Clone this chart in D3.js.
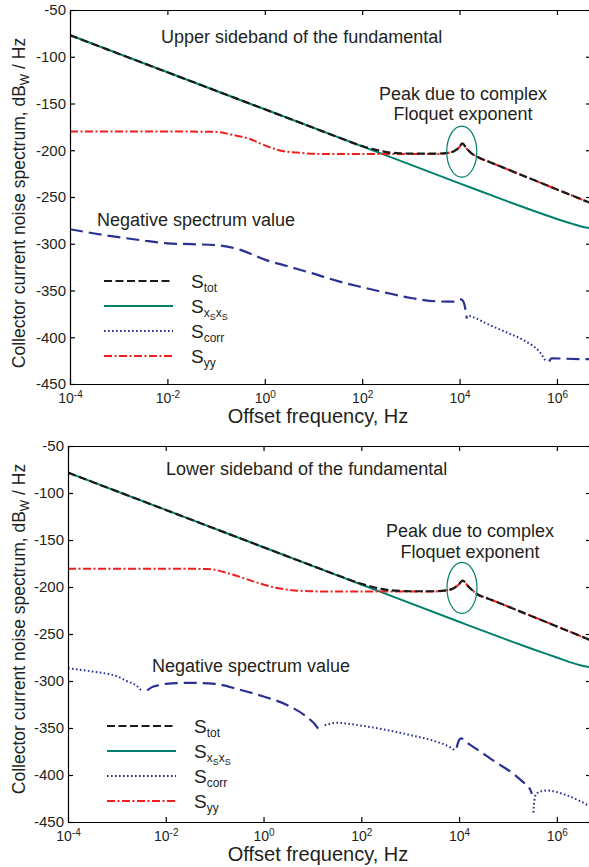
<!DOCTYPE html>
<html>
<head>
<meta charset="utf-8">
<script src="https://cdn.jsdelivr.net/npm/d3@7"></script>
<style>
body { margin: 0; background: #fff; }
svg text { font-family: "Liberation Sans", Arial, Helvetica, sans-serif; fill: #231f20; }
.axis path, .axis line { stroke: #000; stroke-width: 1.2; }
</style>
</head>
<body>
<div id="chart"></div>
<script>
// ---- data: points are [log10(frequency in Hz), dB]; S_corr adds a sign (-1 = negative value)
const freqTickExp = [-4, -2, 0, 2, 4, 6];
const dbTicks = [-50, -100, -150, -200, -250, -300, -350, -400, -450];
const freqMaxExp = Math.log10(5e6);

const upperXX = [[-4,-77],[-2,-116.6],[0,-156.2],[2,-195.8],[4,-235.4],[5,-255],[5.5,-264.5],
  [6,-273.5],[6.3,-278.5],[6.5,-281.5],[6.7,-283.5]];
const upperYY = [[-4,-180],[-2,-180],[-1.06,-180.2],[-0.65,-183.7],[-0.3,-188],[-0.1,-192.6],
  [0.31,-200.2],[0.72,-202.8],[1.2,-204],[3.5,-204],[3.8,-202.5],[3.9,-200.5],[4.0,-196.5],
  [4.055,-192.6],[4.15,-198.5],[4.25,-203.5],[4.4,-208],[4.6,-212.2],[4.9,-218.6],[5.2,-225],
  [5.58,-233],[5.9,-239.8],[6.27,-247.6],[6.7,-256.7]];
const upperTot = [[-4,-77],[-2,-116.6],[0,-156.2],[1,-176],[1.5,-186],[2,-195.5],[2.2,-198.5],
  [2.4,-201],[2.6,-202.6],[2.8,-203.3],[3,-203.6],[3.5,-203.6],[3.8,-202.5],[3.9,-200.5],[4.0,-196.5],
  [4.055,-192.6],[4.15,-198.5],[4.25,-203.5],[4.4,-208],[4.6,-212.2],[4.9,-218.6],[5.2,-225],
  [5.58,-233],[5.9,-239.8],[6.27,-247.6],[6.7,-256.7]];
const upperCorr = [[-4,-284.5,-1],[-3.5,-289,-1],[-3,-293,-1],[-2.5,-296.5,-1],[-2,-299.5,-1],
  [-1.5,-300.5,-1],[-1,-301.5,-1],[-0.5,-306.5,-1],[0,-317,-1],[0.5,-324.5,-1],[1,-332,-1],
  [1.5,-340,-1],[2,-346.5,-1],[2.5,-352.5,-1],[3,-358,-1],[3.5,-361.5,-1],[3.9,-362,-1],
  [4.03,-359.5,-1],[4.08,-362,-1],[4.12,-370,-1],[4.15,-380,-1],
  [4.2,-377,1],[4.3,-379,1],[4.62,-387,1],[5,-395.5,1],[5.31,-403,1],[5.5,-409,1],[5.65,-416,1],[5.76,-425,1],
  [5.84,-426,-1],[5.89,-422.5,-1],[6.2,-423,-1],[6.7,-423.5,-1]];

const lowerXX = [[-4,-78.3],[-2,-118],[0,-157.7],[2,-197.3],[4,-237],[5,-256.5],[5.5,-266],
  [6,-275],[6.3,-280.5],[6.5,-283.5],[6.7,-285.5]];
const lowerYY = [[-4,-180.6],[-2,-180.6],[-1.15,-180.8],[-0.62,-187],[-0.21,-194],[0.27,-201],
  [0.74,-204],[1.2,-204.7],[3.5,-204.7],[3.8,-203],[3.9,-201],[4.0,-197],[4.07,-193.3],
  [4.2,-200],[4.39,-208.2],[4.6,-212.4],[4.9,-218.6],[5.2,-225],[5.58,-233],[5.9,-239.8],
  [6.27,-247.6],[6.7,-256.8]];
const lowerTot = [[-4,-78.3],[-2,-118],[0,-157.7],[1,-177.5],[1.5,-187.3],[2,-196.5],[2.2,-199.5],
  [2.4,-202],[2.6,-203.5],[2.8,-204.2],[3,-204.5],[3.5,-204.5],[3.8,-203],[3.9,-201],[4.0,-197],
  [4.07,-193.3],[4.2,-200],[4.39,-208.2],[4.6,-212.4],[4.9,-218.6],[5.2,-225],[5.58,-233],[5.9,-239.8],
  [6.27,-247.6],[6.7,-256.8]];
const lowerCorr = [[-4,-286.5,1],[-3.5,-290,1],[-3,-295,1],[-2.8,-300,1],[-2.6,-305,1],[-2.5,-310,1],
  [-2.38,-310,-1],[-2.3,-307,-1],[-2.15,-304.5,-1],[-2,-303,-1],[-1.5,-302,-1],[-1,-303,-1],
  [-0.5,-309,-1],[0,-316.5,-1],[0.5,-326,-1],[0.95,-341,-1],[1.05,-346,-1],[1.12,-351,-1],
  [1.25,-347,1],[1.5,-344.5,1],[2,-347.5,1],[2.5,-352,1],[3,-357.5,1],[3.5,-364,1],[3.8,-370,1],
  [3.88,-372.5,1],[3.92,-375,1],
  [3.95,-371,-1],[4.0,-363,-1],[4.05,-361,-1],[4.1,-362.5,-1],[4.2,-367,-1],[4.36,-372.5,-1],
  [4.77,-387,-1],[5.04,-396,-1],[5.3,-407,-1],[5.45,-415,-1],[5.49,-420,-1],
  [5.52,-440,1],[5.54,-427,1],[5.58,-420,1],[5.7,-417,1],[5.8,-416.5,1],[6.2,-421.5,1],[6.7,-434,1]];

const upperPeak = [4.045, -201.5];
const lowerPeak = [4.06, -201];

// ---- styles
const colTot = "#1a1a1a", colXX = "#00806c", colCorr = "#2a3192", colYY = "#f01e1e";
const dashTot = "8,3.5", dashYY = "8,2.5,2,2.5", dashNeg = "13,6", dashPos = "1.6,2.4";

const width = 589, height = 867;
const svg = d3.select("#chart").append("svg")
    .attr("width", width)
    .attr("height", height);

function drawPanel(p) {
    const x = d3.scaleLog().domain([1e-4, Math.pow(10, freqMaxExp)]).range([p.left, p.right]);
    const y = d3.scaleLinear().domain([-450, -50]).range([p.bottom, p.top]);
    const g = svg.append("g");

    const clipId = "clip-" + p.id;
    svg.append("clipPath").attr("id", clipId)
      .append("rect")
        .attr("x", p.left).attr("y", p.top)
        .attr("width", p.right - p.left).attr("height", p.bottom - p.top);

    const line = d3.line()
        .x(d => x(Math.pow(10, d[0])))
        .y(d => y(d[1]))
        .curve(d3.curveMonotoneX);

    const curves = g.append("g").attr("clip-path", `url(#${clipId})`);

    curves.append("path").datum(p.xx)
        .attr("d", line).attr("fill", "none")
        .attr("stroke", colXX).attr("stroke-width", 2);

    // split S_corr into runs of one sign
    const runs = [];
    p.corr.forEach(function(d) {
        const last = runs[runs.length - 1];
        if (last && last.sign === d[2]) last.pts.push(d);
        else runs.push({ sign: d[2], pts: [d] });
    });
    runs.forEach(function(r) {
        curves.append("path").datum(r.pts)
            .attr("d", line).attr("fill", "none")
            .attr("stroke", colCorr)
            .attr("stroke-width", r.sign < 0 ? 2.2 : 2)
            .attr("stroke-dasharray", r.sign < 0 ? dashNeg : dashPos);
    });

    curves.append("path").datum(p.yy)
        .attr("d", line).attr("fill", "none")
        .attr("stroke", colYY).attr("stroke-width", 2)
        .attr("stroke-dasharray", dashYY);

    curves.append("path").datum(p.tot)
        .attr("d", line).attr("fill", "none")
        .attr("stroke", colTot).attr("stroke-width", 2.2)
        .attr("stroke-dasharray", dashTot);

    // axes, inward ticks on all four sides
    const xTicks = freqTickExp.map(e => Math.pow(10, e));
    const xb = g.append("g").attr("class", "axis")
        .attr("transform", `translate(0,${p.bottom})`)
        .call(d3.axisBottom(x).tickValues(xTicks).tickSize(-5).tickSizeOuter(0));
    xb.selectAll(".tick text").each(function(d, i) {
        const t = d3.select(this)
            .attr("y", 19).attr("dy", null)
            .attr("font-size", "14px").attr("fill", "#231f20");
        t.text(null);
        t.append("tspan").text("10");
        t.append("tspan").attr("dy", -5).attr("font-size", "10px").text(freqTickExp[i]);
    });
    xb.selectAll(".tick text").attr("text-anchor", "middle");

    g.append("g").attr("class", "axis")
        .attr("transform", `translate(0,${p.top})`)
        .call(d3.axisTop(x).tickValues(xTicks).tickSize(-5).tickSizeOuter(0).tickFormat(""));

    g.append("g").attr("class", "axis")
        .attr("transform", `translate(${p.left},0)`)
        .call(d3.axisLeft(y).tickValues(dbTicks).tickSize(-5).tickSizeOuter(0)
            .tickPadding(4).tickFormat(d => String(d)))
        .selectAll(".tick text")
        .attr("font-size", "15px").attr("fill", "#231f20");

    g.append("g").attr("class", "axis")
        .attr("transform", `translate(${p.right},0)`)
        .call(d3.axisRight(y).tickValues(dbTicks).tickSize(-5).tickSizeOuter(0).tickFormat(""));

    g.selectAll(".axis .domain").attr("stroke-width", 1.5);

    // axis titles
    g.append("text")
        .attr("x", 318).attr("y", p.bottom + 38.5)
        .attr("text-anchor", "middle").attr("font-size", "20px")
        .text("Offset frequency, Hz");

    const yl = g.append("text")
        .attr("transform", `translate(25,${p.yLabelMid}) rotate(-90)`)
        .attr("text-anchor", "middle").attr("font-size", "17.5px");
    yl.append("tspan").text("Collector current noise spectrum, dB");
    yl.append("tspan").attr("font-size", "12px").attr("dy", 4).text("W");
    yl.append("tspan").attr("dy", -4).text(" / Hz");

    // annotations
    g.append("text").attr("x", p.titleX).attr("y", p.titleY)
        .attr("font-size", "18px").text(p.title);
    g.append("text").attr("x", p.peakX).attr("y", p.peakY)
        .attr("text-anchor", "middle").attr("font-size", "18px").text("Peak due to complex");
    g.append("text").attr("x", p.peakX).attr("y", p.peakY + 20.5)
        .attr("text-anchor", "middle").attr("font-size", "18px").text("Floquet exponent");
    g.append("text").attr("x", p.negX).attr("y", p.negY)
        .attr("font-size", "18px").text("Negative spectrum value");

    g.append("ellipse")
        .attr("cx", x(Math.pow(10, p.peak[0]))).attr("cy", y(p.peak[1]))
        .attr("rx", 15).attr("ry", 25.5)
        .attr("fill", "none").attr("stroke", colXX).attr("stroke-width", 1.2);

    // legend
    const legend = g.append("g").attr("transform", `translate(${p.legX},${p.legY})`);
    const items = [
        { color: colTot, dash: dashTot, sub: [["tot", 4, 12]] },
        { color: colXX, dash: null, sub: [["x", 4, 12], ["S", 3, 9], ["x", -3, 12], ["S", 3, 9]] },
        { color: colCorr, dash: dashPos, sub: [["corr", 4, 12]] },
        { color: colYY, dash: dashYY, sub: [["yy", 4, 12]] }
    ];
    items.forEach(function(it, i) {
        const row = legend.append("g").attr("transform", `translate(0,${i * 25})`);
        row.append("line")
            .attr("x1", 0).attr("x2", 69).attr("y1", 0).attr("y2", 0)
            .attr("stroke", it.color).attr("stroke-width", 2.2)
            .attr("stroke-dasharray", it.dash);
        const t = row.append("text").attr("x", 87).attr("y", 6.5).attr("font-size", "19px");
        t.append("tspan").text("S");
        it.sub.forEach(function(s) {
            t.append("tspan").attr("dy", s[1]).attr("font-size", s[2] + "px").text(s[0]);
        });
    });
}

drawPanel({
    id: "upper", left: 70, right: 591, top: 10, bottom: 384,
    xx: upperXX, yy: upperYY, tot: upperTot, corr: upperCorr, peak: upperPeak,
    yLabelMid: 203, title: "Upper sideband of the fundamental", titleX: 161, titleY: 43,
    peakX: 463, peakY: 99.5, negX: 97, negY: 226, legX: 104, legY: 281
});

drawPanel({
    id: "lower", left: 68, right: 591, top: 446, bottom: 822,
    xx: lowerXX, yy: lowerYY, tot: lowerTot, corr: lowerCorr, peak: lowerPeak,
    yLabelMid: 629, title: "Lower sideband of the fundamental", titleX: 166, titleY: 475,
    peakX: 470, peakY: 537, negX: 152, negY: 672, legX: 107, legY: 726
});
</script>
</body>
</html>
